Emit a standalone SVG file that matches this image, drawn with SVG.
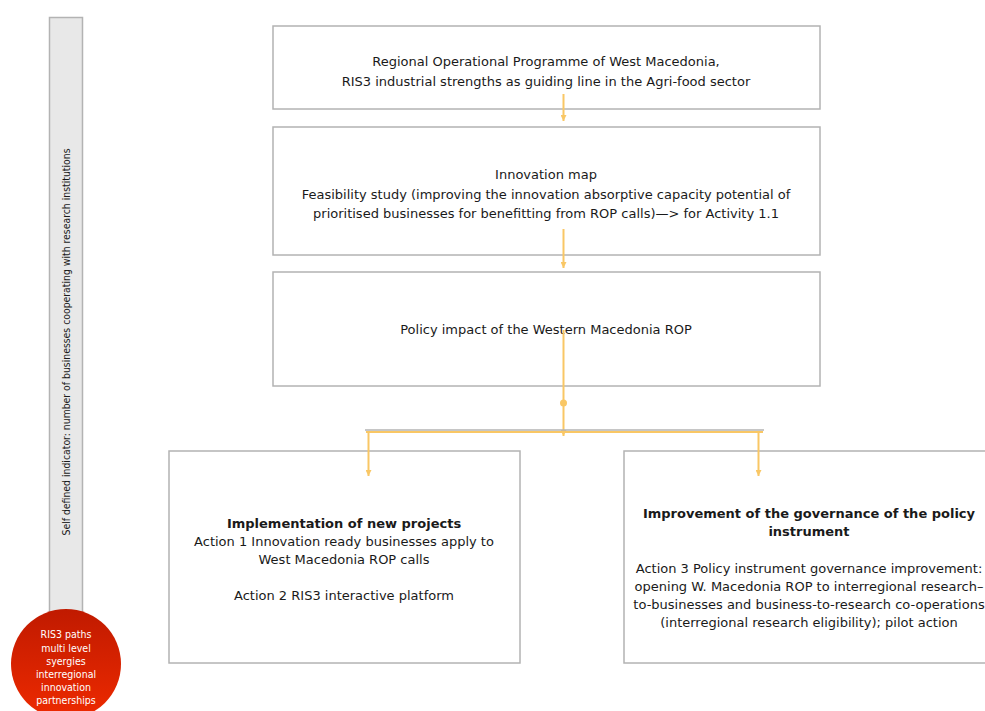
<svg xmlns="http://www.w3.org/2000/svg" width="985" height="711" viewBox="0 0 985 711">
<defs>
<style>
.box{fill:#fff;stroke:#b3b3b3;stroke-width:1.5}
.t{font-family:"DejaVu Sans","Liberation Sans",sans-serif;font-size:13px;fill:#1a1a1a;text-anchor:middle}
.b{font-weight:bold}
.c{stroke:#f9c765;stroke-width:2;fill:none}
.w{font-family:"DejaVu Sans Condensed","DejaVu Sans",sans-serif;font-size:10.5px;fill:#fff;text-anchor:middle}
</style>
<marker id="ah" viewBox="0 0 10 10" refX="10" refY="5" markerWidth="6" markerHeight="6" orient="auto" markerUnits="userSpaceOnUse">
<path d="M0,0 L10,5 L0,10 Z" fill="#f9c765"/>
</marker>
<linearGradient id="rg" x1="0" y1="0" x2="0" y2="1">
<stop offset="0" stop-color="#c01a00"/>
<stop offset="1" stop-color="#ee2a00"/>
</linearGradient>
</defs>
<g id="indicator">
<rect x="49.5" y="17.5" width="33" height="600" fill="#e8e8e8" stroke="#b3b3b3" stroke-width="1.5"/>
<text transform="translate(70,342) rotate(-90)" font-family="'DejaVu Sans Condensed','Liberation Sans Narrow','DejaVu Sans',sans-serif" font-size="10" fill="#1a1a1a" text-anchor="middle" textLength="387" lengthAdjust="spacingAndGlyphs">Self defined indicator: number of businesses cooperating with research institutions</text>
</g>
<g id="ris3">
<circle cx="66" cy="664" r="55" fill="url(#rg)"/>
<text class="w" x="66" y="638">RIS3 paths</text>
<text class="w" x="66" y="651.5">multi level</text>
<text class="w" x="66" y="664.5">syergies</text>
<text class="w" x="66" y="678">interregional</text>
<text class="w" x="66" y="691">innovation</text>
<text class="w" x="66" y="704">partnerships</text>
</g>
<g id="rop">
<rect class="box" x="273" y="26" width="547" height="83"/>
<text class="t" x="546" y="66">Regional Operational Programme of West Macedonia,</text>
<text class="t" x="546" y="86">RIS3 industrial strengths as guiding line in the Agri-food sector</text>
</g>
<g id="innovation-map">
<rect class="box" x="273" y="127" width="547" height="128"/>
<text class="t" x="546" y="179">Innovation map</text>
<text class="t" x="546" y="199">Feasibility study (improving the innovation absorptive capacity potential of</text>
<text class="t" x="546" y="218">prioritised businesses for benefitting from ROP calls)—&gt; for Activity 1.1</text>
</g>
<g id="policy-impact">
<rect class="box" x="273" y="272" width="547" height="114"/>
<text class="t" x="546" y="334">Policy impact of the Western Macedonia ROP</text>
</g>
<g id="implementation">
<rect class="box" x="169" y="451" width="351" height="212"/>
<text class="t b" x="344" y="528">Implementation of new projects</text>
<text class="t" x="344" y="546">Action 1 Innovation ready businesses apply to</text>
<text class="t" x="344" y="564">West Macedonia ROP calls</text>
<text class="t" x="344" y="600">Action 2 RIS3 interactive platform</text>
</g>
<g id="governance">
<rect class="box" x="624" y="451" width="370" height="212"/>
<text class="t b" x="809" y="518">Improvement of the governance of the policy</text>
<text class="t b" x="809" y="536">instrument</text>
<text class="t" x="809" y="573">Action 3 Policy instrument governance improvement:</text>
<text class="t" x="809" y="591">opening W. Macedonia ROP to interregional research–</text>
<text class="t" x="809" y="609">to-businesses and business-to-research co-operations</text>
<text class="t" x="809" y="627">(interregional research eligibility); pilot action</text>
</g>
<g id="connectors">
<line class="c" x1="563.5" y1="94" x2="563.5" y2="121" marker-end="url(#ah)"/>
<line class="c" x1="563.5" y1="229" x2="563.5" y2="268" marker-end="url(#ah)"/>
<line class="c" x1="563.5" y1="330" x2="563.5" y2="436" marker-end="url(#ah)"/>
<circle cx="563.5" cy="403" r="3.5" fill="#f9c765"/>
<line x1="365" y1="430" x2="764" y2="430" stroke="#b3b3b3" stroke-width="1.5"/>
<line class="c" x1="366" y1="432" x2="763" y2="432"/>
<line class="c" x1="368.5" y1="431" x2="368.5" y2="476" marker-end="url(#ah)"/>
<line class="c" x1="758.5" y1="431" x2="758.5" y2="476" marker-end="url(#ah)"/>
</g>
</svg>
